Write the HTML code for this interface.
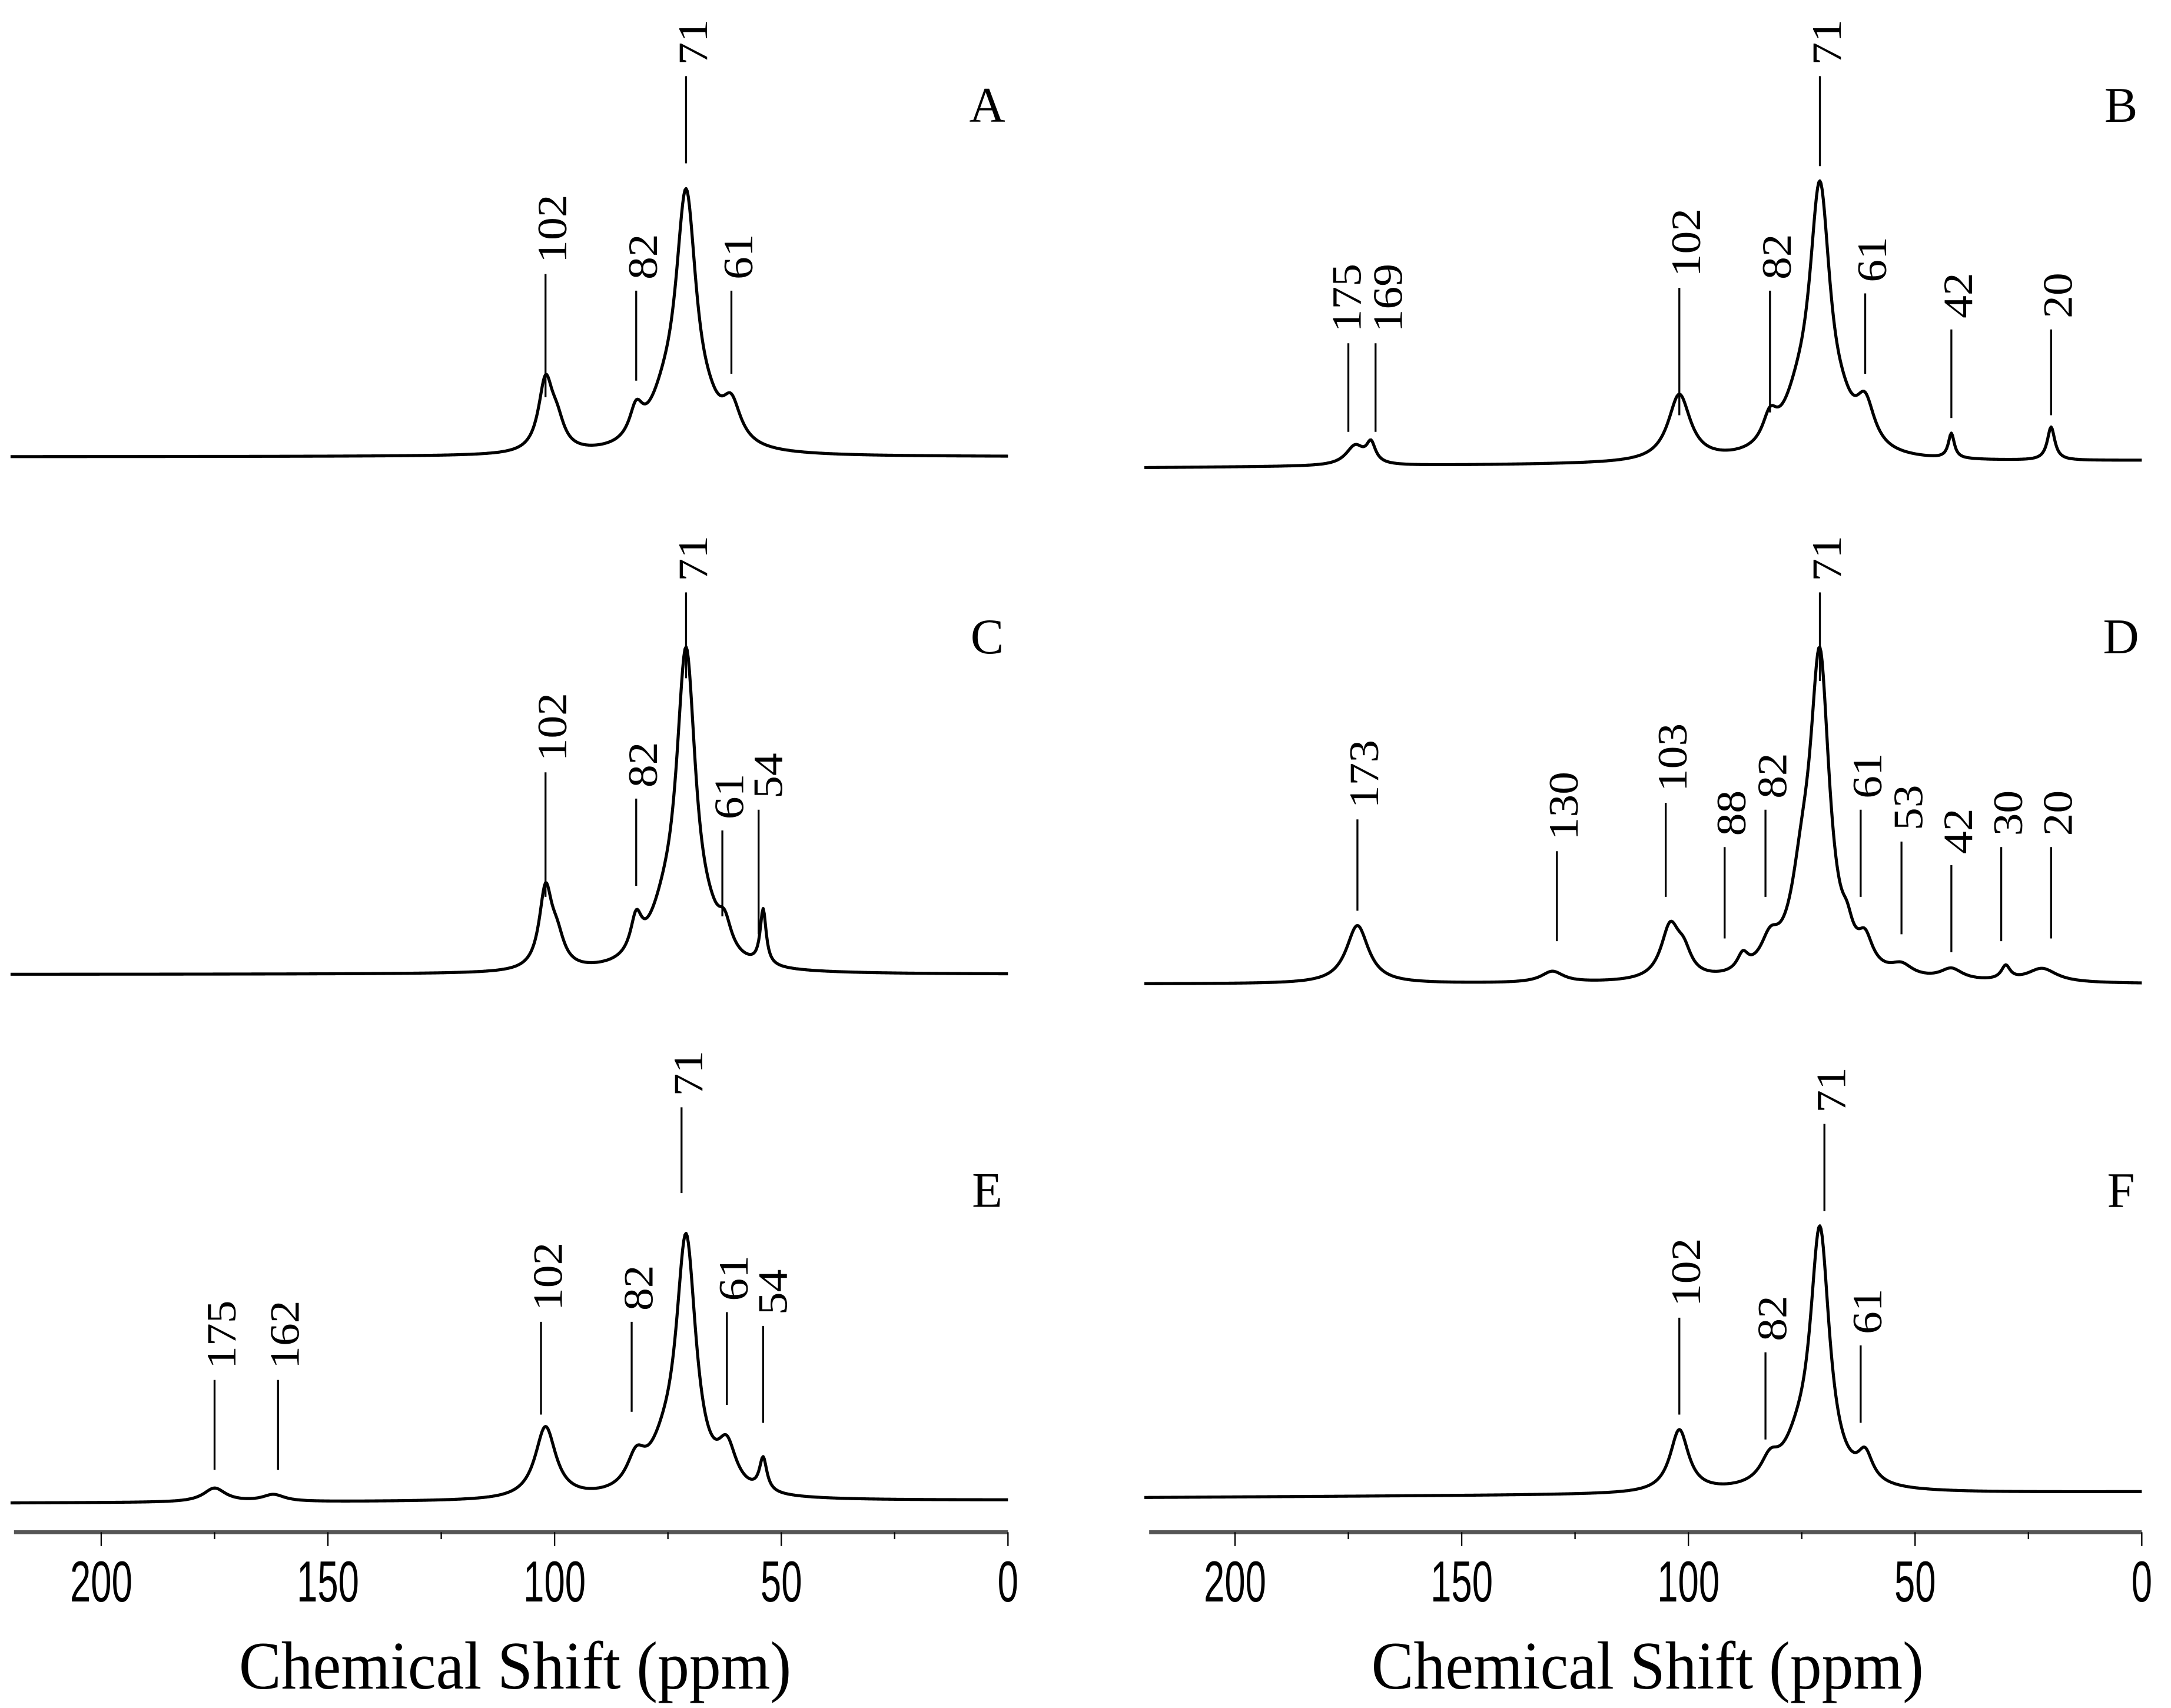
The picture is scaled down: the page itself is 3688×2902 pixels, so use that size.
<!DOCTYPE html>
<html><head><meta charset="utf-8">
<style>
html,body{margin:0;padding:0;background:#fff;}
svg{display:block;}
</style></head>
<body>
<svg id="fig" width="3688" height="2902" viewBox="0 0 1568 1234" xmlns="http://www.w3.org/2000/svg">
<g id="root"></g>
</svg>
<script>
// ---- data ----
const panelNames = ["A","B","C","D","E","F"];
const peaksA = [[102,50,1.9],[99.5,18,2],[82,22,1.8],[71,180,2.8],[76,22,4],[61,28,2.5],[66,10,3]];
const peaksB = [[173.5,14,2.5],[170,14,1.2],[102,48,3],[82,20,2],[76,25,4],[71,188,2.8],[61,32,2.5],[66,12,3],[42,18,0.8],[20,24,1]];
const peaksC = [[102,56,1.7],[99.5,20,2],[82,26,1.5],[76,25,4],[71,222,2.6],[62.5,20,1.8],[66,12,3],[54,40,0.8]];
const peaksD = [[173,42,3],[130,8,3],[104,38,2.5],[101,15,2],[88,12,1.5],[82,20,2.5],[75,50,3],[71,222,2.6],[65,15,1.5],[61,20,2],[53,8,3],[42,8,3],[30,10,1.2],[22,10,4]];
const peaksE = [[175,10,3],[162,5,3],[102,52,2.8],[82,22,2.5],[76,20,4],[71,182,2.7],[62,30,2.5],[54,24,1]];
const peaksF = [[102,45,2.5],[82,16,2.5],[76,20,4],[71,184,2.6],[61,20,2]];
const baseA = [330,330], baseB = [338,333], baseC = [704,704], baseD = [711,711], baseE = [1086,1084], baseF = [1082,1078];
const tickValues = [200,150,100,50,0];
const minorTicks = [175,125,75,25];
// annotations: [ppm, label, lineTop, lineBottom, labelOffsetX]
const annA = [[102,"102",198,287,0],[82,"82",210,275,0],[71,"71",55,118,0],[61,"61",210,270,0]];
const annB = [[175,"175",248,312,-6],[169,"169",248,312,4],[102,"102",208,300,0],[82,"82",210,298,0],[71,"71",55,120,0],[61,"61",212,270,0],[42,"42",238,302,0],[20,"20",238,300,0]];
const annC = [[102,"102",558,648,0],[82,"82",577,640,0],[71,"71",428,490,0],[63,"61",600,662,0],[55,"54",585,675,2]];
const annD = [[173,"173",592,658,0],[129,"130",615,680,0],[105,"103",580,648,0],[92,"88",612,678,0],[83,"82",585,648,0],[71,"71",428,492,0],[62,"61",585,648,0],[53,"53",608,675,0],[42,"42",625,688,0],[31,"30",612,680,0],[20,"20",612,678,0]];
const annE = [[175,"175",997,1062,0],[161,"162",997,1062,0],[103,"102",955,1022,0],[83,"82",955,1020,0],[72,"71",800,862,0],[62,"61",948,1015,0],[54,"54",958,1028,2]];
const annF = [[102,"102",952,1022,0],[83,"82",977,1040,0],[70,"71",812,875,0],[62,"61",972,1028,0]];

const panels = [
 {peaks:peaksA, base:baseA, ann:annA, col:0, lbl:[713,88]},
 {peaks:peaksB, base:baseB, ann:annB, col:1, lbl:[1532,88]},
 {peaks:peaksC, base:baseC, ann:annC, col:0, lbl:[713,472]},
 {peaks:peaksD, base:baseD, ann:annD, col:1, lbl:[1532,472]},
 {peaks:peaksE, base:baseE, ann:annE, col:0, lbl:[713,872]},
 {peaks:peaksF, base:baseF, ann:annF, col:1, lbl:[1532,872]}
];
const NS="http://www.w3.org/2000/svg";
const root=document.getElementById('root');
function xScale(col,ppm){ return (col===0?728:1547) - ppm*3.275; }
function mk(tag,attrs,parent){const e=document.createElementNS(NS,tag);for(const k in attrs)e.setAttribute(k,attrs[k]);(parent||root).appendChild(e);return e;}

panels.forEach((p,i)=>{
  const g=mk('g',{});
  
  
  let d='';
  for(let ppm=220;ppm>=0;ppm-=0.25){
    let y=0;
    p.peaks.forEach(pk=>{const t=(ppm-pk[0])/pk[2];y+=pk[1]/(1+t*t);});
    const b=p.base[0]+(p.base[1]-p.base[0])*(220-ppm)/220;
    const x=xScale(p.col,ppm);
    d+=(d?'L':'M')+x.toFixed(2)+' '+(b-y).toFixed(2);
  }
  const path=mk('path',{d:d,fill:'none',stroke:'#000','stroke-width':2.2,'stroke-linejoin':'round'},g);
  
  
  p.ann.forEach(a=>{
    const x=xScale(p.col,a[0]);
    const ln=mk('line',{x1:x,x2:x,y1:a[2],y2:a[3],stroke:'#000','stroke-width':1.4},g);
    
    
    const ty=a[2]-8;
    const t=mk('text',{x:0,y:0,transform:'translate('+(x+15+a[4])+','+ty+') rotate(-90) scale(1.1,1)','font-family':'Liberation Serif, serif','font-size':30},g);
    t.textContent=a[1];
    
    
  });
  const L=mk('text',{x:p.lbl[0],y:p.lbl[1],'text-anchor':'middle','font-family':'Liberation Serif, serif','font-size':36},g);
  L.textContent=panelNames[i];
  
  
});

[0,1].forEach(col=>{
  const g=mk('g',{});
  
  
  const x0=col===0?10:830, x1=col===0?728:1547;
  mk('line',{x1:x0,x2:x1,y1:1107,y2:1107,stroke:'#555','stroke-width':2.8},g);
  tickValues.forEach(v=>{
    const x=xScale(col,v);
    mk('line',{x1:x,x2:x,y1:1107,y2:1117,stroke:'#000','stroke-width':1},g);
    const t=mk('text',{x:0,y:0,transform:'translate('+x+',1157) scale(1,1.55)','text-anchor':'middle','font-family':'Liberation Sans, sans-serif','font-size':27},g);
    t.textContent=v;
    
    
  });
  minorTicks.forEach(v=>{
    const x=xScale(col,v);
    mk('line',{x1:x,x2:x,y1:1107,y2:1112,stroke:'#000','stroke-width':1},g);
  });
  const tt=mk('text',{x:0,y:0,transform:'translate('+(col===0?372:1190)+',1220) scale(1.04,1.12)','text-anchor':'middle','font-family':'Liberation Serif, serif','font-size':44},g);
  tt.textContent='Chemical Shift (ppm)';
  
  
});
</script>
</body></html>
